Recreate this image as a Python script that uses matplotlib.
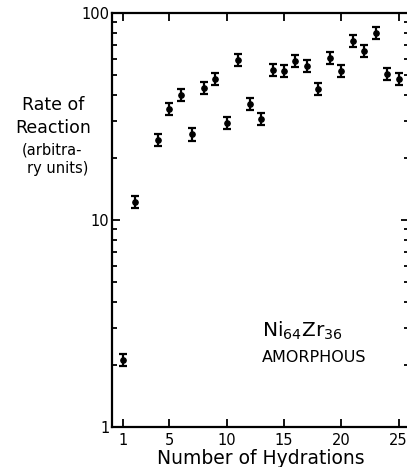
import numpy as np
import matplotlib
matplotlib.use("Agg")
import matplotlib.pyplot as plt
from matplotlib.ticker import FixedLocator, LogLocator, NullFormatter

# hydration cycle number and measured reaction rate (arbitrary units)
hydrations = [1, 2, 4, 5, 6, 7, 8, 9, 10, 11, 12, 13,
              14, 15, 16, 17, 18, 19, 20, 21, 22, 23, 24, 25]
rate = [2.1, 12.2, 24.4, 34.5, 40.3, 25.9, 43.4, 48.0, 29.3, 59.1, 36.2, 30.8,
        52.9, 52.3, 58.5, 55.7, 43.1, 60.9, 52.3, 73.4, 65.4, 80.2, 50.6, 48.2]
rel_err = 0.07

x_ticks = [1, 5, 10, 15, 20, 25]
y_ticks = [1, 10, 100]
y_tick_labels = ["1", "10", "100"]

fig = plt.figure(figsize=(4.07, 4.67), dpi=100)
# right edge of the frame sits just past the figure border
ax = fig.add_axes([112 / 407, 1 - 427 / 467, 297 / 407, 414 / 467])

rate = np.array(rate)
lo = rate - rate / (1 + rel_err)
hi = rate * rel_err
ax.errorbar(hydrations, rate, yerr=[lo, hi], fmt="o", color="black",
            markersize=3.8, elinewidth=1.6, capsize=2.6, capthick=1.6)

ax.set_yscale("log")
ax.set_ylim(1, 100)
ax.set_xlim(0, 25.9)

ax.xaxis.set_major_locator(FixedLocator(x_ticks))
ax.set_xticklabels([str(t) for t in x_ticks])
ax.yaxis.set_major_locator(FixedLocator(y_ticks))
ax.set_yticklabels(y_tick_labels)
ax.yaxis.set_minor_locator(LogLocator(base=10, subs=np.arange(2, 10)))
ax.yaxis.set_minor_formatter(NullFormatter())

ax.tick_params(which="both", direction="in", top=True, right=True,
               labelsize=10.5, pad=2, width=1.3)
ax.tick_params(which="major", length=6)
ax.tick_params(which="minor", length=3.5)
ax.tick_params(axis="x", pad=4)
for s in ax.spines.values():
    s.set_linewidth(1.6)

ax.set_xlabel("Number of Hydrations", fontsize=13.5, labelpad=1)

# y-axis caption placed as a block of text left of the axis
fig.text(53 / 407, 1 - 105 / 467, "Rate of", ha="center", va="center", fontsize=12.5)
fig.text(53 / 407, 1 - 128 / 467, "Reaction", ha="center", va="center", fontsize=12.5)
fig.text(52 / 407, 1 - 150 / 467, "(arbitra-", ha="center", va="center", fontsize=10.5)
fig.text(58 / 407, 1 - 168 / 467, "ry units)", ha="center", va="center", fontsize=10.5)

fig.text(262 / 407, 1 - 331 / 467, r"Ni$_{64}$Zr$_{36}$", ha="left", va="center",
         fontsize=14.5)
fig.text(262 / 407, 1 - 358 / 467, "AMORPHOUS", ha="left", va="center", fontsize=11.5)

fig.savefig("out.png", dpi=100)
